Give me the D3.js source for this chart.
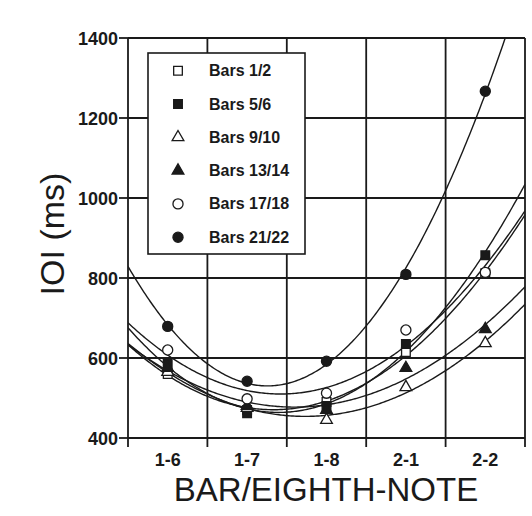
<!DOCTYPE html>
<html>
<head>
<meta charset="utf-8">
<script src="https://cdn.jsdelivr.net/npm/d3@7"></script>
<style>
  body { margin: 0; background: #fff; }
  svg { display: block; font-family: "Liberation Sans", Arial, Helvetica, sans-serif; }
</style>
</head>
<body>
<div class="chart"></div>
<script>
// note positions (bar-eighth note)
const categories = ["1-6", "1-7", "1-8", "2-1", "2-2"];

// IOI in ms
const bars12   = [560, 470, 490, 615, 812];
const bars56   = [585, 462, 480, 635, 857];
const bars910  = [565, 475, 445, 527, 637];
const bars1314 = [575, 480, 470, 575, 672];
const bars1718 = [620, 498, 512, 670, 814];
const bars2122 = [679, 542, 592, 809, 1267];

const seriesNames = ["Bars 1/2", "Bars 5/6", "Bars 9/10", "Bars 13/14", "Bars 17/18", "Bars 21/22"];
const yTicks = [400, 600, 800, 1000, 1200, 1400];

const series = [
  {name: seriesNames[0], values: bars12,   shape: d3.symbolSquare,   filled: false},
  {name: seriesNames[1], values: bars56,   shape: d3.symbolSquare,   filled: true},
  {name: seriesNames[2], values: bars910,  shape: d3.symbolTriangle, filled: false},
  {name: seriesNames[3], values: bars1314, shape: d3.symbolTriangle, filled: true},
  {name: seriesNames[4], values: bars1718, shape: d3.symbolCircle,   filled: false},
  {name: seriesNames[5], values: bars2122, shape: d3.symbolCircle,   filled: true},
];

// least squares quadratic through the 5 points (index 0..4)
function quadFit(vals) {
  const n = vals.length, xm = (n - 1) / 2;
  const xs = vals.map((v, i) => i - xm);
  const m2 = d3.mean(xs.map(t => t * t));
  const p2 = xs.map(x => x * x - m2);
  const a = d3.mean(vals);
  const b = d3.sum(vals, (v, i) => v * xs[i]) / d3.sum(xs, x => x * x);
  const c = d3.sum(vals, (v, i) => v * p2[i]) / d3.sum(p2, p => p * p);
  return t => a + b * (t - xm) + c * ((t - xm) * (t - xm) - m2);
}

const width = 532, height = 516;
const ink = "#1a1a1a";

const svg = d3.select(".chart").append("svg")
  .attr("width", width)
  .attr("height", height);

const x = d3.scaleLinear().domain([-0.5, categories.length - 0.5]).range([128, 525]);
const y = d3.scaleLinear().domain([400, 1400]).range([438, 38]);

svg.append("defs").append("clipPath").attr("id", "plot")
  .append("rect")
  .attr("x", x.range()[0]).attr("y", y.range()[1])
  .attr("width", x.range()[1] - x.range()[0])
  .attr("height", y.range()[0] - y.range()[1]);

// grid
const bounds = d3.range(categories.length + 1).map(i => i - 0.5);
svg.append("g").selectAll("line")
  .data(yTicks)
  .enter().append("line")
  .attr("x1", x.range()[0]).attr("x2", x.range()[1])
  .attr("y1", d => y(d)).attr("y2", d => y(d))
  .attr("stroke", ink).attr("stroke-width", 1.8);

svg.append("g").selectAll("line")
  .data(bounds)
  .enter().append("line")
  .attr("x1", d => x(d)).attr("x2", d => x(d))
  .attr("y1", y.range()[1]).attr("y2", y.range()[0] + 9)
  .attr("stroke", ink).attr("stroke-width", 1.8);

// y axis ticks + labels
const yAxis = svg.append("g");
yAxis.selectAll("line")
  .data(yTicks)
  .enter().append("line")
  .attr("x1", x.range()[0] - 9).attr("x2", x.range()[0])
  .attr("y1", d => y(d)).attr("y2", d => y(d))
  .attr("stroke", ink).attr("stroke-width", 1.8);
yAxis.selectAll("text")
  .data(yTicks)
  .enter().append("text")
  .attr("x", x.range()[0] - 10)
  .attr("y", d => y(d) + 6.5)
  .attr("text-anchor", "end")
  .attr("font-size", 18)
  .attr("font-weight", "bold")
  .attr("fill", ink)
  .text(d => d);

// x labels
svg.append("g").selectAll("text")
  .data(categories)
  .enter().append("text")
  .attr("x", (d, i) => x(i))
  .attr("y", 466)
  .attr("text-anchor", "middle")
  .attr("font-size", 18)
  .attr("font-weight", "bold")
  .attr("fill", ink)
  .text(d => d);

svg.append("text")
  .attr("x", 326)
  .attr("y", 501)
  .attr("text-anchor", "middle")
  .attr("font-size", 33)
  .attr("fill", ink)
  .text("BAR/EIGHTH-NOTE");

svg.append("text")
  .attr("transform", "translate(64,234) rotate(-90)")
  .attr("text-anchor", "middle")
  .attr("font-size", 34)
  .attr("fill", ink)
  .text("IOI (ms)");

// fitted curves
const line = d3.line().x(d => x(d[0])).y(d => y(d[1]));
const ts = d3.range(-0.5, categories.length - 0.5 + 0.001, 0.02);
svg.append("g").attr("clip-path", "url(#plot)")
  .selectAll("path")
  .data(series)
  .enter().append("path")
  .attr("d", s => { const f = quadFit(s.values); return line(ts.map(t => [t, f(t)])); })
  .attr("fill", "none")
  .attr("stroke", ink)
  .attr("stroke-width", 1.4);

// points
function symSize(shape) {
  return shape === d3.symbolTriangle ? 60 : shape === d3.symbolSquare ? 75 : 80;
}
series.forEach(s => {
  svg.append("g").selectAll("path")
    .data(s.values)
    .enter().append("path")
    .attr("transform", (d, i) => `translate(${x(i)},${y(d)})`)
    .attr("d", d3.symbol(s.shape, symSize(s.shape)))
    .attr("fill", s.filled ? ink : "#fff")
    .attr("stroke", ink)
    .attr("stroke-width", 1.3);
});

// legend
const legend = svg.append("g");
legend.append("rect")
  .attr("x", 148).attr("y", 53)
  .attr("width", 157).attr("height", 201)
  .attr("fill", "#fff")
  .attr("stroke", ink).attr("stroke-width", 1.6);

const item = legend.selectAll("g.item")
  .data(series)
  .enter().append("g")
  .attr("class", "item")
  .attr("transform", (d, i) => `translate(178,${70.7 + i * 33.3})`);
item.append("path")
  .attr("d", d => d3.symbol(d.shape, symSize(d.shape))())
  .attr("fill", d => d.filled ? ink : "#fff")
  .attr("stroke", ink)
  .attr("stroke-width", 1.3);
item.append("text")
  .attr("x", 31)
  .attr("y", 5.5)
  .attr("font-size", 16)
  .attr("font-weight", "bold")
  .attr("fill", ink)
  .text(d => d.name);
</script>
</body>
</html>
